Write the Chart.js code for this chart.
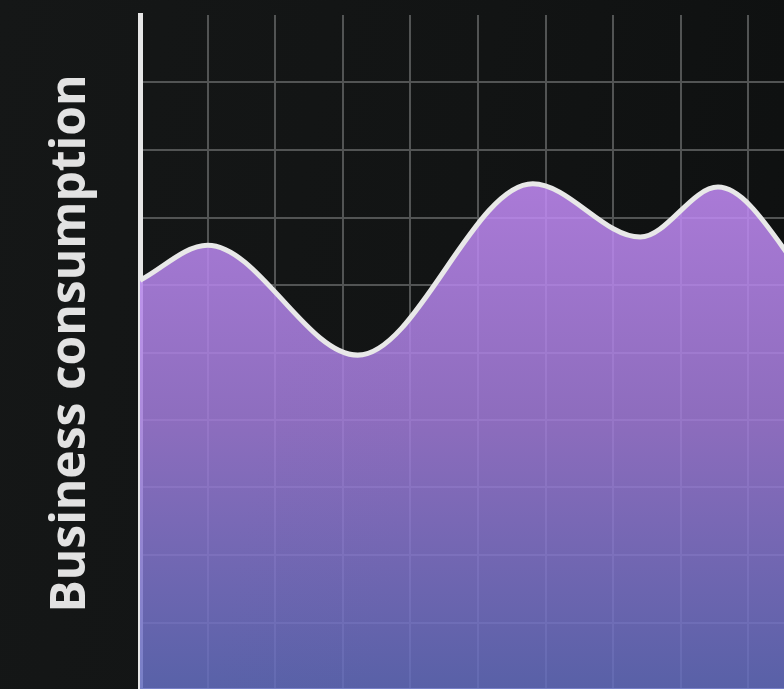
<!DOCTYPE html>
<html>
<head>
<meta charset="utf-8">
<title>Business consumption</title>
<script src="https://cdn.jsdelivr.net/npm/chart.js@4.4.1/dist/chart.umd.min.js"></script>
<style>
  html, body {
    margin: 0;
    padding: 0;
    width: 784px;
    height: 689px;
    overflow: hidden;
    background: linear-gradient(100deg, #151717 0%, #121414 55%, #0e1010 100%);
  }
  #wrap {
    position: absolute;
    left: 0;
    top: 0;
    width: 816px;
    height: 700px;
  }
</style>
</head>
<body>
<div id="wrap">
  <canvas id="consumptionChart" width="816" height="700"></canvas>
</div>
<script>
'use strict';

// x position of each reading (one grid column = 1)
var positions = [0, 1.0, 3.22, 5.81, 7.4, 8.55, 10];
// consumption values (one grid row = 1)
var consumption = [6.07, 6.59, 4.96, 7.5, 6.71, 7.45, 5.93];
var axisTitle = 'Business consumption';

var points = positions.map(function (x, i) {
  return { x: x, y: consumption[i] };
});

function fillGradient(context) {
  var chart = context.chart;
  var area = chart.chartArea;
  if (!area) {
    return 'rgba(150, 110, 200, 0.85)';
  }
  var g = chart.ctx.createLinearGradient(0, area.top, 0, area.bottom);
  g.addColorStop(0, 'rgba(205, 142, 250, 0.86)');
  g.addColorStop(0.25, 'rgba(196, 140, 248, 0.86)');
  g.addColorStop(0.6, 'rgba(162, 124, 218, 0.86)');
  g.addColorStop(1, 'rgba(100, 110, 192, 0.86)');
  return g;
}

var gridColor = '#525454';
var axisColor = '#e6e6e6';

// no grid line along the top edge of the plot
function yGridColor(context) {
  return context.tick && context.tick.value === 10 ? 'rgba(0,0,0,0)' : gridColor;
}

// rotated y axis title, left of the axis line
var axisTitlePlugin = {
  id: 'axisTitle',
  afterDraw: function (chart) {
    var c = chart.ctx;
    c.save();
    c.translate(85, 343.5);
    c.rotate(-Math.PI / 2);
    c.font = 'bold 48px "Open Sans"';
    c.fillStyle = '#e2e2e2';
    c.textAlign = 'center';
    c.textBaseline = 'alphabetic';
    c.fillText(axisTitle, 0, 0);
    c.restore();
  }
};

var ctx = document.getElementById('consumptionChart').getContext('2d');
var chart = new Chart(ctx, {
  type: 'line',
  data: {
    datasets: [{
      data: points,
      borderColor: '#e8e8e8',
      borderWidth: 5,
      backgroundColor: fillGradient,
      fill: 'origin',
      cubicInterpolationMode: 'monotone',
      pointRadius: 0,
      pointHoverRadius: 0
    }]
  },
  options: {
    responsive: false,
    animation: false,
    layout: {
      padding: { left: 140, top: 15, right: 0, bottom: 10 }
    },
    plugins: {
      legend: { display: false },
      tooltip: { enabled: false }
    },
    scales: {
      x: {
        type: 'linear',
        min: 0,
        max: 10,
        ticks: { display: false, stepSize: 1 },
        grid: { color: gridColor, lineWidth: 2, drawTicks: false },
        border: { color: axisColor, width: 5 }
      },
      y: {
        min: 0,
        max: 10,
        ticks: { display: false, stepSize: 1 },
        grid: { color: yGridColor, lineWidth: 2, drawTicks: false },
        border: { color: axisColor, width: 5 }
      }
    }
  },
  plugins: [axisTitlePlugin]
});
</script>
</body>
</html>
